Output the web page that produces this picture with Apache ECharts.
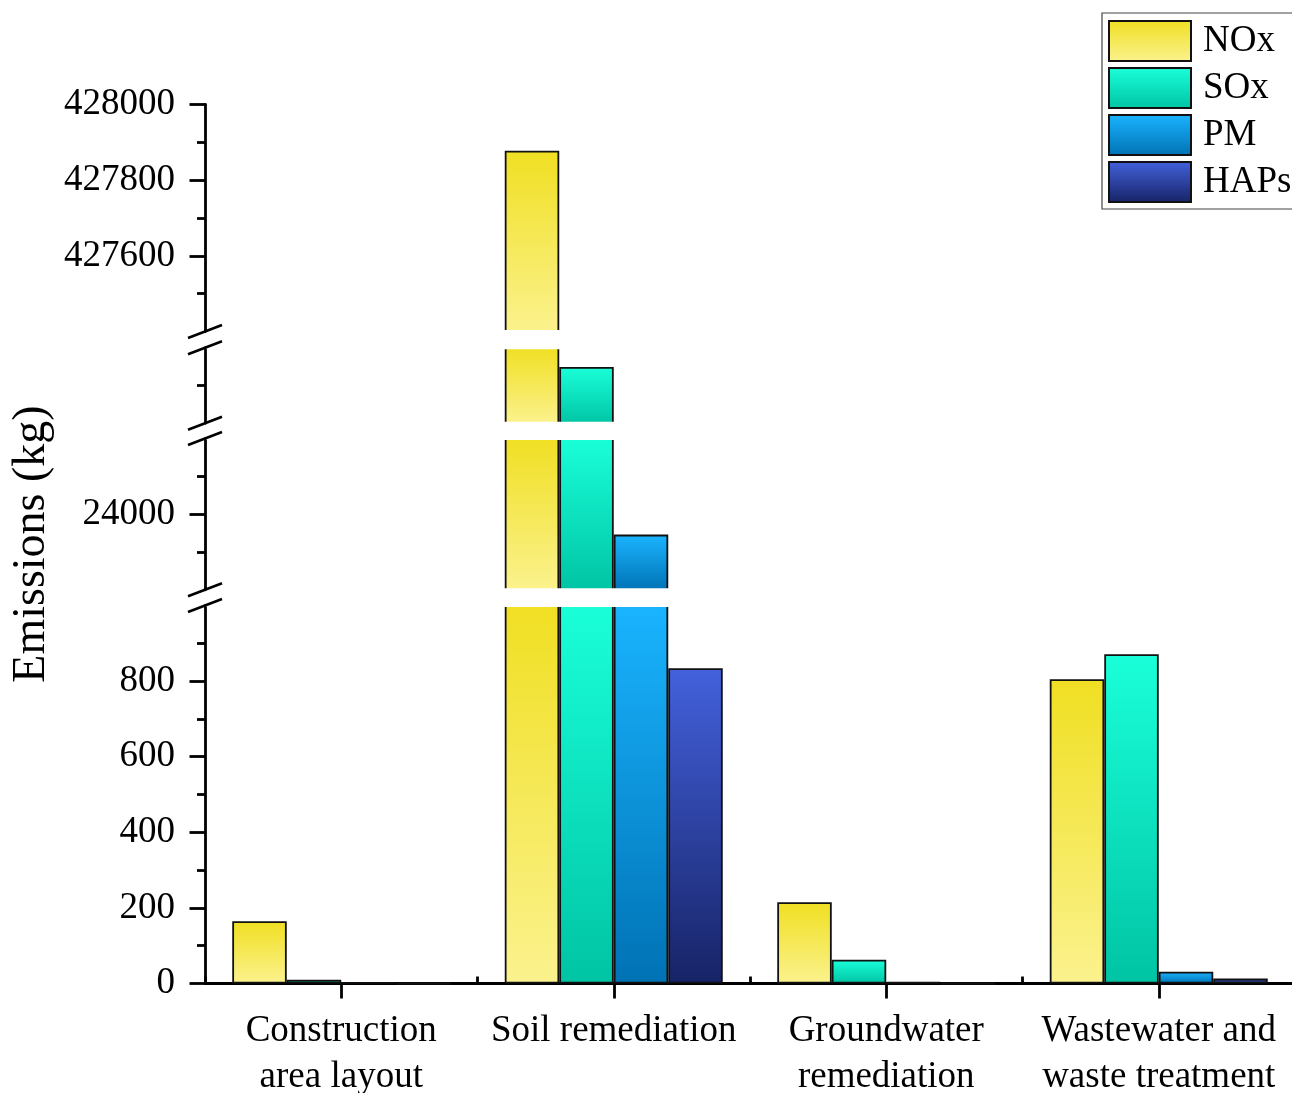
<!DOCTYPE html>
<html>
<head>
<meta charset="utf-8">
<script src="https://cdn.jsdelivr.net/npm/echarts@6/dist/echarts.min.js"></script>
<style>
  html, body { margin: 0; padding: 0; background: #fff; }
  #chart { width: 1292px; height: 1093px; }
</style>
</head>
<body>
<div id="chart"></div>
<script>
// data
const categories = ['Construction\narea layout', 'Soil remediation', 'Groundwater\nremediation', 'Wastewater and\nwaste treatment'];
const seriesNames = ['NOx', 'SOx', 'PM', 'HAPs'];
const noxValues = [165, 427878, 215, 805];
const soxValues = [10, 98149, 63, 871];
const pmValues = [3, 23946, 4, 31];
const hapsValues = [0, 834, 0, 13];

// broken axis: one value range per segment, top to bottom
const segmentMin = [427400, 98000, 23800, 0];
const segmentMax = [428000, 98200, 24200, 1000];
const majorTicks = [[427600, 427800, 428000], [], [24000], [0, 200, 400, 600, 800]];
const minorTicks = [[427500, 427700, 427900], [98100], [23900, 24100], [100, 300, 500, 700, 900]];

// layout
const AXIS_X = 205;
const GRID_WIDTH = 1090;
const GRID_TOPS = [104.5, 347.7, 438.5, 605.5];
const GRID_HEIGHTS = [227, 75.6, 151.3, 378];
const FONT = '"Liberation Serif", "Times New Roman", serif';

const colorStops = [
  ['#f0df22', '#fbf28e'],
  ['#1affd9', '#00c4a4'],
  ['#1ab4ff', '#0072b4'],
  ['#4361dc', '#172366'],
];
const allValues = [noxValues, soxValues, pmValues, hapsValues];

const chart = echarts.init(document.getElementById('chart'), null, { renderer: 'canvas' });

const grids = [];
const xAxes = [];
const yAxes = [];
const minorAxes = [];
const series = [];

GRID_TOPS.forEach((top, g) => {
  const isBottom = g === GRID_TOPS.length - 1;
  grids.push({
    left: AXIS_X, top: top, width: GRID_WIDTH, height: GRID_HEIGHTS[g],
    containLabel: false, outerBoundsMode: 'none'
  });
  xAxes.push({
    type: 'category', gridIndex: g, data: categories, show: isBottom,
    axisLine: { show: true, onZero: false, lineStyle: { color: '#000', width: 2.8 } },
    axisTick: { show: true, alignWithLabel: true, length: 15, lineStyle: { color: '#000', width: 2.8 } },
    axisLabel: {
      show: true, interval: 0, margin: 25, color: '#000',
      fontFamily: FONT, fontSize: 37, lineHeight: 46
    },
    splitLine: { show: false }
  });
  const hasMajor = majorTicks[g].length > 0;
  yAxes.push({
    type: 'value', gridIndex: g, position: 'left',
    min: segmentMin[g], max: segmentMax[g],
    axisLine: { show: true, lineStyle: { color: '#000', width: 2.8 } },
    axisTick: { show: hasMajor, length: 15.5, customValues: majorTicks[g], lineStyle: { color: '#000', width: 2.8 } },
    axisLabel: {
      show: hasMajor, customValues: majorTicks[g], margin: 30, color: '#000',
      fontFamily: FONT, fontSize: 37, formatter: v => String(v)
    },
    splitLine: { show: false }
  });
  minorAxes.push({
    type: 'value', gridIndex: g, position: 'left',
    min: segmentMin[g], max: segmentMax[g],
    axisLine: { show: false },
    axisTick: { show: true, length: 8, customValues: minorTicks[g], lineStyle: { color: '#000', width: 2.8 } },
    axisLabel: { show: false },
    splitLine: { show: false }
  });

  seriesNames.forEach((name, s) => {
    const stops = colorStops[s];
    series.push({
      type: 'bar', name: name,
      xAxisIndex: g, yAxisIndex: g,
      barGap: '0%', barCategoryGap: '20%',
      clip: true,
      itemStyle: {
        color: new echarts.graphic.LinearGradient(0, 0, 0, 1, [
          { offset: 0, color: stops[0] },
          { offset: 1, color: stops[1] }
        ]),
        borderColor: '#111', borderWidth: 1.8
      },
      emphasis: { disabled: true },
      data: allValues[s].map(v => (v > segmentMin[g] || (isBottom && v >= 0)) ? v : '-')
    });
  });
});

// short boundary ticks between categories on the bottom axis
xAxes.push({
  type: 'category', gridIndex: GRID_TOPS.length - 1, data: categories,
  axisLine: { show: false },
  axisTick: { show: true, alignWithLabel: false, length: 7, lineStyle: { color: '#000', width: 2.8 } },
  axisLabel: { show: false },
  splitLine: { show: false }
});

// break gaps and slash marks
const graphics = [];
for (let g = 0; g < GRID_TOPS.length - 1; g++) {
  const yUp = GRID_TOPS[g] + GRID_HEIGHTS[g];
  const yDown = GRID_TOPS[g + 1];
  graphics.push({
    type: 'rect', z: 100,
    shape: { x: AXIS_X + 1.5, y: yUp - 1.5, width: GRID_WIDTH, height: yDown - yUp + 3 },
    style: { fill: '#fff' }
  });
  [yUp, yDown].forEach(y => {
    graphics.push({
      type: 'line', z: 101,
      shape: { x1: AXIS_X - 17, y1: y + 6.5, x2: AXIS_X + 17, y2: y - 6.5 },
      style: { stroke: '#000', lineWidth: 2.6 }
    });
  });
}
graphics.push({
  type: 'text', z: 101, x: 32, y: 544, rotation: Math.PI / 2,
  style: {
    text: 'Emissions (kg)', fill: '#000', font: '46px ' + FONT,
    textAlign: 'center', textVerticalAlign: 'middle'
  }
});

chart.setOption({
  animation: false,
  backgroundColor: '#fff',
  textStyle: { fontFamily: FONT },
  legend: {
    data: seriesNames,
    orient: 'vertical',
    left: 1102, top: 13,
    icon: 'rect',
    itemWidth: 82, itemHeight: 40, itemGap: 5,
    padding: [7, 12, 6, 6],
    borderColor: '#444', borderWidth: 1.2,
    selectedMode: false,
    textStyle: { fontFamily: FONT, fontSize: 37, color: '#000', lineHeight: 34, padding: [0, 0, 0, 7] }
  },
  grid: grids,
  xAxis: xAxes,
  yAxis: yAxes.concat(minorAxes),
  series: series,
  graphic: graphics
});
</script>
</body>
</html>
